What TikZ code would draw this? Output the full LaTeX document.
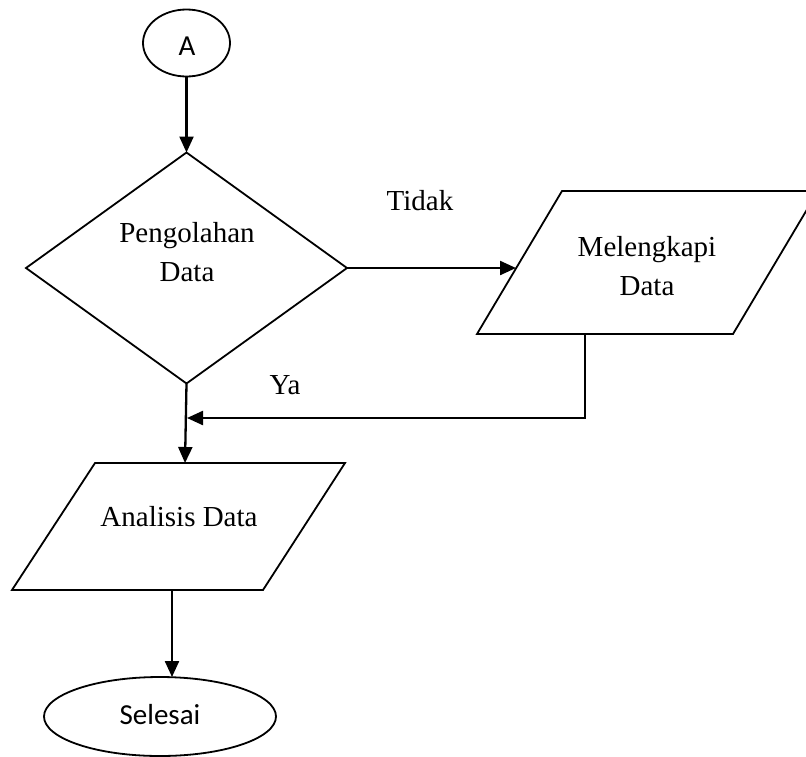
\documentclass[tikz,border=0pt]{standalone}
\usepackage{fontspec}
\setmainfont{Liberation Serif}
\newfontfamily\calibri{Carlito}
\usetikzlibrary{shapes.geometric,arrows.meta}
\begin{document}
\begin{tikzpicture}[x=1pt,y=-1pt,
  shapeline/.style={draw=black,line width=1.8pt},
  conn/.style={line width=2.3pt,-{Triangle[length=16pt,width=14pt]}},
  lbl/.style={font=\fontsize{29}{39}\selectfont, inner sep=0pt, align=center},
  sanslbl/.style={font=\calibri\fontsize{29}{35}\selectfont, inner sep=0pt}]
\clip (0,0) rectangle (806,756);
% start connector
\node[shapeline, ellipse, minimum width=87pt, minimum height=67pt, inner sep=0pt, outer sep=0pt] (A) at (186.5,43) {};
\node[sanslbl, anchor=base] (Atxt) at (187,55) {A};
% decision
\node[shapeline, diamond, minimum width=321pt, minimum height=231pt, inner sep=0pt, outer sep=0pt] (dec) at (186.5,268) {};
\node[lbl] (dectxt) at (187,252) {Pengolahan\\Data};
% Melengkapi Data
\coordinate (m1) at (562,191);
\coordinate (m2) at (818,191);
\coordinate (m3) at (733,334);
\coordinate (m4) at (477,334);
\draw[shapeline] (m1) -- (m2) -- (m3) -- (m4) -- cycle;
\coordinate (mL) at (516,268);
\coordinate (mB) at (585,334);
\node[lbl] (mtxt) at (647,266) {Melengkapi\\Data};
% Analisis Data
\coordinate (a1) at (95,463);
\coordinate (a2) at (345,463);
\coordinate (a3) at (263,590);
\coordinate (a4) at (12,590);
\draw[shapeline] (a1) -- (a2) -- (a3) -- (a4) -- cycle;
\coordinate (aT) at (185,463);
\coordinate (aB) at (172,590);
\node[lbl, anchor=base] (atxt) at (179,526) {Analisis Data};
% end
\node[shapeline, ellipse, minimum width=232pt, minimum height=79pt, inner sep=0pt, outer sep=0pt] (S) at (160,716.5) {};
\node[sanslbl, anchor=base] (stxt) at (160,724) {Selesai};
% connectors
\coordinate (j) at (187,418);
\draw[conn] (A) -- (dec.north);
\draw[conn] (dec.east) -- (mL);
\draw[conn] (dec.south) -- (aT);
\draw[conn] (mB) |- (j);
\draw[conn] (aB) -- (aB |- S.north);
% labels
\node[lbl, anchor=base] (tidak) at (420,210) {Tidak};
\node[lbl, anchor=base] (ya) at (285,394) {Ya};
\end{tikzpicture}
\end{document}
